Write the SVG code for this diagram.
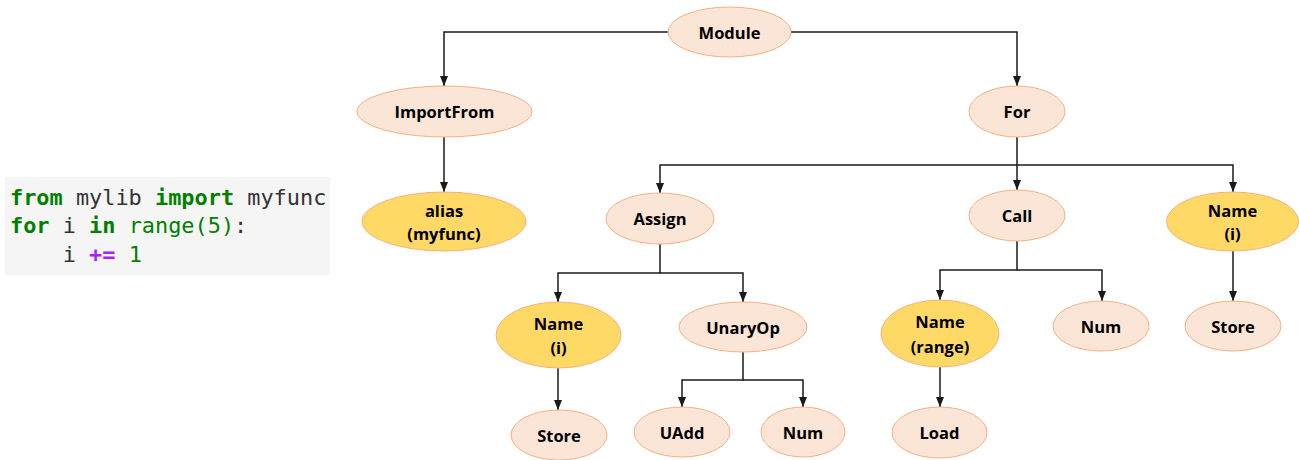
<svg xmlns="http://www.w3.org/2000/svg" width="1299" height="460" viewBox="0 0 1299 460">
<style>
.n{fill:#FBE5D6;stroke:#F4B183;stroke-width:1}
.y{fill:#FFD966;stroke:#F4B183;stroke-width:1}
.t{font-family:"Open Sans","Liberation Sans",sans-serif;font-weight:bold;font-size:16.5px;fill:#000;text-anchor:middle;dominant-baseline:central}
.c{fill:none;stroke:#1a1a1a;stroke-width:1.5}
.code{font-family:"DejaVu Sans Mono","Liberation Mono",monospace;font-size:21.9px;fill:#333}
.kw{fill:#008000;font-weight:bold}
.g{fill:#008000}
.op{fill:#AA22FF;font-weight:bold}
</style>
<defs>
<marker id="a" markerUnits="userSpaceOnUse" markerWidth="10" markerHeight="10" viewBox="0 0 10 10" refX="10" refY="5" orient="auto">
<path d="M0,1 L10,5 L0,9 Z" fill="#1a1a1a"/>
</marker>
</defs>
<g id="code">
<rect x="5" y="177" width="325" height="98" fill="#F5F5F5"/>
<text class="code" x="10" y="205"><tspan class="kw">from</tspan> mylib <tspan class="kw">import</tspan> myfunc</text>
<text class="code" x="10" y="233"><tspan class="kw">for</tspan> i <tspan class="kw">in</tspan> <tspan class="g">range(5)</tspan>:</text>
<text class="code" x="10" y="262" xml:space="preserve">    i <tspan class="op">+=</tspan> <tspan class="g">1</tspan></text>
</g>
<g id="connectors">
<path class="c" d="M668,32 H444 V86" marker-end="url(#a)"/>
<path class="c" d="M791,32 H1017 V86" marker-end="url(#a)"/>
<path class="c" d="M444,137 V192" marker-end="url(#a)"/>
<path class="c" d="M1017,137 V165 H660 V193" marker-end="url(#a)"/>
<path class="c" d="M1017,165 V190" marker-end="url(#a)"/>
<path class="c" d="M1017,165 H1233 V192" marker-end="url(#a)"/>
<path class="c" d="M660,244 V273 H558 V302" marker-end="url(#a)"/>
<path class="c" d="M660,273 H743 V302" marker-end="url(#a)"/>
<path class="c" d="M558,368 V410" marker-end="url(#a)"/>
<path class="c" d="M743,352 V380 H682 V407" marker-end="url(#a)"/>
<path class="c" d="M743,380 H803 V407" marker-end="url(#a)"/>
<path class="c" d="M1017,241 V270 H940 V300" marker-end="url(#a)"/>
<path class="c" d="M1017,270 H1102 V301" marker-end="url(#a)"/>
<path class="c" d="M940,367 V407" marker-end="url(#a)"/>
<path class="c" d="M1233,251 V301" marker-end="url(#a)"/>
</g>
<g id="module"><ellipse class="n" cx="729.5" cy="32" rx="61.5" ry="25"/><text class="t" x="729.5" y="32">Module</text></g>
<g id="importfrom"><ellipse class="n" cx="444.5" cy="111.5" rx="87.5" ry="25.5"/><text class="t" x="444.5" y="111.5">ImportFrom</text></g>
<g id="for"><ellipse class="n" cx="1017" cy="111.5" rx="48" ry="25.5"/><text class="t" x="1017" y="111.5">For</text></g>
<g id="alias"><ellipse class="y" cx="444" cy="221.5" rx="82" ry="29.5"/><text class="t" x="444" y="210">alias</text><text class="t" x="444" y="233">(myfunc)</text></g>
<g id="assign"><ellipse class="n" cx="660" cy="218.5" rx="54" ry="25.5"/><text class="t" x="660" y="218.5">Assign</text></g>
<g id="call"><ellipse class="n" cx="1017" cy="215.5" rx="48" ry="25.5"/><text class="t" x="1017" y="215.5">Call</text></g>
<g id="name-i-for"><ellipse class="y" cx="1232.5" cy="221.5" rx="66" ry="29.5"/><text class="t" x="1232.5" y="210">Name</text><text class="t" x="1232.5" y="233">(i)</text></g>
<g id="name-i-assign"><ellipse class="y" cx="558.5" cy="335" rx="62.5" ry="33"/><text class="t" x="558.5" y="323">Name</text><text class="t" x="558.5" y="347">(i)</text></g>
<g id="unaryop"><ellipse class="n" cx="743" cy="327" rx="64" ry="25"/><text class="t" x="743" y="327">UnaryOp</text></g>
<g id="name-range"><ellipse class="y" cx="940" cy="333.5" rx="59" ry="33.5"/><text class="t" x="940" y="321">Name</text><text class="t" x="940" y="346">(range)</text></g>
<g id="num-call"><ellipse class="n" cx="1101" cy="326" rx="48" ry="25"/><text class="t" x="1101" y="326">Num</text></g>
<g id="store-for"><ellipse class="n" cx="1233" cy="326" rx="48" ry="25"/><text class="t" x="1233" y="326">Store</text></g>
<g id="store-assign"><ellipse class="n" cx="559" cy="435" rx="48" ry="25"/><text class="t" x="559" y="435">Store</text></g>
<g id="uadd"><ellipse class="n" cx="682" cy="432" rx="48" ry="25"/><text class="t" x="682" y="432">UAdd</text></g>
<g id="num-unary"><ellipse class="n" cx="803" cy="432" rx="42" ry="25"/><text class="t" x="803" y="432">Num</text></g>
<g id="load"><ellipse class="n" cx="939.5" cy="432.5" rx="47.5" ry="25.5"/><text class="t" x="939.5" y="432.5">Load</text></g>
</svg>
